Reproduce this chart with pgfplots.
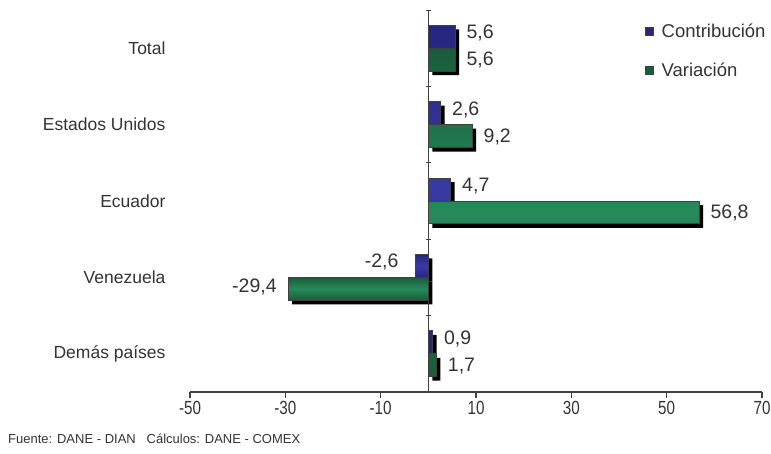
\documentclass[border=0pt]{standalone}
\usepackage{fontspec}
\setmainfont{Liberation Sans}
\newfontfamily\narrowfont[FakeStretch=0.8]{Liberation Sans}
\usepackage{pgfplots}
\pgfplotsset{compat=1.18}
\definecolor{cblue}{HTML}{26267F}
\definecolor{cbluel}{HTML}{3A3AA6}
\definecolor{cgreen}{HTML}{195C3B}
\definecolor{cgreenl}{HTML}{268A5A}
\definecolor{axgray}{HTML}{404040}
\definecolor{txt}{HTML}{333333}

\pgfplotstableread{
x y
5.6 4
2.6 3
4.7 2
-2.6 1
0.9 0
}\contrib
\pgfplotstableread{
x y
5.6 4
9.2 3
56.8 2
-29.4 1
1.7 0
}\variac

\begin{document}
\begin{tikzpicture}
\useasboundingbox (-190pt,-61pt) rectangle (581pt,392pt);
\begin{axis}[
  scale only axis, width=572pt, height=382pt,
  at={(0pt,0pt)}, anchor=south west,
  xmin=-50, xmax=70, ymin=-0.5, ymax=4.5,
  axis x line=bottom, axis y line=left,
  x axis line style={axgray, line width=1.2pt, -},
  y axis line style={draw=none},
  xtick={-50,-30,-10,10,30,50,70},
  xticklabels={-50,-30,-10,10,30,50,70},
  tick align=outside,
  major tick length=6pt,
  x tick style={axgray, line width=1.2pt},
  xticklabel style={font=\narrowfont\fontsize{19}{19}\selectfont, text=txt},
  ytick={0,1,2,3,4},
  yticklabels={Demás países, Venezuela, Ecuador, Estados Unidos, Total},
  y tick style={draw=none},
  yticklabel style={font=\fontsize{17.5}{17.5}\selectfont, text=txt, xshift=-15pt},
  clip=false,
  legend cell align=left,
  legend style={at={(rel axis cs:0.790,0.975)}, anchor=north west, draw=none, fill=none,
    font=\fontsize{18.5}{18.5}\selectfont, text=txt, row sep=20pt},
  blueb/.style={xbar, bar width=0.3, bar shift=0.15, draw=axgray, line width=1pt,
    top color=cblue, bottom color=cblue, middle color=cbluel},
  greenb/.style={xbar, bar width=0.3, bar shift=-0.15, draw=axgray, line width=1pt,
    top color=cgreen, bottom color=cgreen, middle color=cgreenl},
  lab/.style={nodes near coords, point meta=explicit symbolic,
    nodes near coords style={font=\fontsize{19.5}{19.5}\selectfont, text=txt, inner xsep=11pt, anchor=#1}},
]
% shadows
\addplot[xbar, bar width=0.3, bar shift=0.15, fill=black, draw=none, xshift=4pt, yshift=-4pt, forget plot] table[x=x,y=y] {\contrib};
\addplot[xbar, bar width=0.3, bar shift=-0.15, fill=black, draw=none, xshift=4pt, yshift=-4pt, forget plot] table[x=x,y=y] {\variac};
% bars (Contribución)
\addplot[blueb, lab=west, nodes near coords style={yshift=15pt}, forget plot]
  coordinates {(5.6,4)[5,6] (2.6,3)[2,6] (4.7,2)[4,7] (0.9,0)[0,9]};
\addplot[blueb, lab=east, nodes near coords style={yshift=15pt, xshift=-6pt}, forget plot]
  coordinates {(-2.6,1)[-2,6]};
% bars (Variación)
\addplot[greenb, lab=west, nodes near coords style={yshift=-12pt}, forget plot]
  coordinates {(5.6,4)[5,6] (9.2,3)[9,2] (56.8,2)[56,8] (1.7,0)[1,7]};
\addplot[greenb, lab=east, nodes near coords style={yshift=-10pt}, forget plot]
  coordinates {(-29.4,1)[-29,4]};
% zero axis
\addplot[axgray, line width=1.2pt, mark=none, forget plot] coordinates {(0,-0.5) (0,4.5)};
\addplot[axgray, only marks, mark=-, mark size=2.5pt, line width=1pt, forget plot] coordinates {(0,-0.5)(0,0.5)(0,1.5)(0,2.5)(0,3.5)(0,4.5)};
\addlegendimage{legend image code/.code={\fill[cblue, draw=axgray, line width=0.8pt] (0pt,-4pt) rectangle (8pt,4pt); \path (14pt,0pt);}}
\addlegendentry{Contribución}
\addlegendimage{legend image code/.code={\fill[cgreen, draw=axgray, line width=0.8pt] (0pt,-4pt) rectangle (8pt,4pt); \path (14pt,0pt);}}
\addlegendentry{Variación}
\end{axis}
\node[anchor=base west, font=\fontsize{13}{13}\selectfont, text=txt, inner sep=0pt] at (-182pt,-51pt) {Fuente: DANE - DIAN\ \ \ Cálculos: DANE - COMEX};
\end{tikzpicture}
\end{document}
